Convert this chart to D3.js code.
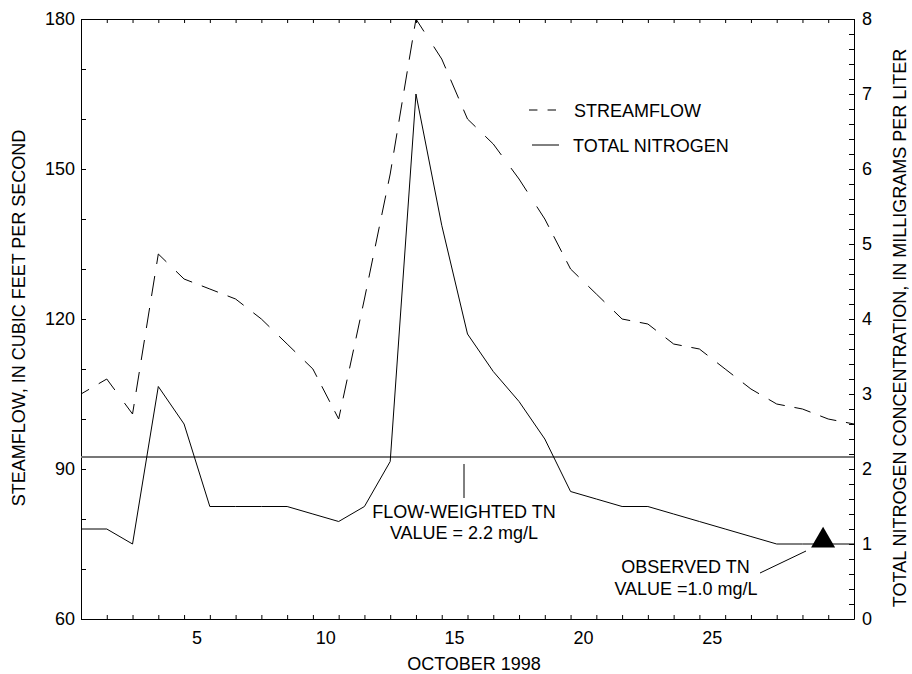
<!DOCTYPE html>
<html>
<head>
<meta charset="utf-8">
<script src="https://cdn.jsdelivr.net/npm/d3@7"></script>
<style>
  html, body { margin: 0; padding: 0; background: #fff; }
  svg { display: block; font-family: "Liberation Sans", Arial, Helvetica, sans-serif; }
</style>
</head>
<body>
<svg id="chart" width="912" height="674"></svg>
<script>
// Daily record for October 1998, one value per day (Oct 1 - Oct 31)
const days = d3.range(1, 32);
const streamflow = [105, 108, 101, 133, 128, 126, 124, 120, 115, 110,
                    100, 124, 149, 180, 172, 160, 155, 148, 140, 130,
                    125, 120, 119, 115, 114, 110, 106, 103, 102, 100, 99];
const totalNitrogen = [1.2, 1.2, 1.0, 3.1, 2.6, 1.5, 1.5, 1.5, 1.5, 1.4,
                       1.3, 1.5, 2.1, 7.0, 5.25, 3.8, 3.3, 2.9, 2.4, 1.7,
                       1.6, 1.5, 1.5, 1.4, 1.3, 1.2, 1.1, 1.0, 1.0, 1.0, 1.0];
const dayLabels = [5, 10, 15, 20, 25];
const flowTicks = [60, 90, 120, 150, 180];
const tnTicks = [0, 1, 2, 3, 4, 5, 6, 7, 8];

// Flow-weighted mean concentration and the single observed sample
const flowWeightedTN = 2.16;
const observedDay = 29.8;
const observedTN = 1.0;

const FONT = 18;
const svg = d3.select("#chart");

const plot = { left: 81, right: 854, top: 19, bottom: 619 };

const x = d3.scaleLinear().domain([1, 31]).range([plot.left, plot.right]);
const yQ = d3.scaleLinear().domain([60, 180]).range([plot.bottom, plot.top]);
const yC = d3.scaleLinear().domain([0, 8]).range([plot.bottom, plot.top]);

// ---- axes (ticks point into the plot) ----
const minorQ = d3.range(60, 181, 10);
const leftAxis = d3.axisLeft(yQ)
  .tickValues(minorQ)
  .tickSizeInner(-5).tickSizeOuter(0).tickPadding(6)
  .tickFormat(v => flowTicks.includes(v) ? d3.format("d")(v) : "");
const minorC = d3.range(0, 41).map(i => i / 5);
const rightAxis = d3.axisRight(yC)
  .tickValues(minorC)
  .tickSizeInner(-5).tickSizeOuter(0).tickPadding(8)
  .tickFormat(v => tnTicks.some(t => Math.abs(t - v) < 1e-9) ? d3.format("d")(v) : "");
const bottomAxis = d3.axisBottom(x).tickValues(days)
  .tickSizeInner(-4).tickSizeOuter(0).tickFormat("");
const topAxis = d3.axisTop(x).tickValues(days)
  .tickSizeInner(-4).tickSizeOuter(0).tickFormat("");

function styleAxis(g) {
  g.attr("font-family", null).attr("font-size", FONT);
  g.selectAll("path.domain").attr("stroke", "#000").attr("stroke-width", 1);
  g.selectAll(".tick line").attr("stroke", "#000").attr("stroke-width", 1);
  g.selectAll(".tick text").attr("fill", "#000");
}

svg.append("g").attr("transform", `translate(${plot.left},0)`).call(leftAxis).call(styleAxis);
svg.append("g").attr("transform", `translate(${plot.right},0)`).call(rightAxis).call(styleAxis);
svg.append("g").attr("transform", `translate(0,${plot.bottom})`).call(bottomAxis).call(styleAxis);
svg.append("g").attr("transform", `translate(0,${plot.top})`).call(topAxis).call(styleAxis);

// Day labels sit at the middle of each day
svg.append("g").selectAll("text")
  .data(dayLabels)
  .join("text")
  .attr("x", d => x(d + 0.5))
  .attr("y", 644)
  .attr("text-anchor", "middle")
  .attr("font-size", FONT)
  .text(d => d);

svg.append("text")
  .attr("x", 474).attr("y", 670)
  .attr("text-anchor", "middle")
  .attr("font-size", FONT)
  .text("OCTOBER 1998");

svg.append("text")
  .attr("transform", "translate(24.5,318) rotate(-90)")
  .attr("text-anchor", "middle")
  .attr("font-size", FONT)
  .text("STEAMFLOW, IN CUBIC FEET PER SECOND");

svg.append("text")
  .attr("transform", "translate(906,328) rotate(-90)")
  .attr("text-anchor", "middle")
  .attr("font-size", FONT)
  .text("TOTAL NITROGEN CONCENTRATION, IN MILLIGRAMS PER LITER");

// ---- flow-weighted reference line ----
svg.append("line")
  .attr("x1", x(1)).attr("x2", x(31))
  .attr("y1", yC(flowWeightedTN)).attr("y2", yC(flowWeightedTN))
  .attr("stroke", "#777").attr("stroke-width", 2);

// ---- dashed streamflow: each segment starts and ends on a half dash ----
function segmentDashes(len, dash = 20, gap = 12) {
  const half = dash / 2;
  const n = Math.max(0, Math.round((len - dash - gap) / (gap + dash)));
  const nominal = dash + (n + 1) * gap + n * dash;
  const s = len / nominal;
  const parts = [half * s, gap * s];
  for (let i = 0; i < n; i++) parts.push(dash * s, gap * s);
  parts.push(half * s, len + 10);
  return parts.join(",");
}

const flowPts = days.map((d, i) => [x(d), yQ(streamflow[i])]);
svg.append("g").selectAll("line")
  .data(d3.pairs(flowPts))
  .join("line")
  .attr("x1", d => d[0][0]).attr("y1", d => d[0][1])
  .attr("x2", d => d[1][0]).attr("y2", d => d[1][1])
  .attr("stroke", "#000").attr("stroke-width", 1)
  .attr("stroke-dasharray", d => segmentDashes(Math.hypot(d[1][0] - d[0][0], d[1][1] - d[0][1])));

// ---- total nitrogen, solid ----
const tnLine = d3.line().x((d, i) => x(days[i])).y(d => yC(d));
svg.append("path")
  .datum(totalNitrogen)
  .attr("d", tnLine)
  .attr("fill", "none")
  .attr("stroke", "#000").attr("stroke-width", 1)
  .attr("stroke-linejoin", "miter");

// ---- observed sample ----
svg.append("path")
  .attr("d", d3.symbol(d3.symbolTriangle, 250)())
  .attr("transform", `translate(${x(observedDay)},${yC(observedTN) - 3.5})`)
  .attr("fill", "#000");

// ---- annotations ----
const fmt = d3.format(".1f");
svg.append("line")
  .attr("x1", 464).attr("x2", 464).attr("y1", 464).attr("y2", 498)
  .attr("stroke", "#000").attr("stroke-width", 1);
svg.append("text").attr("x", 464).attr("y", 518).attr("text-anchor", "middle")
  .attr("font-size", FONT).text("FLOW-WEIGHTED TN");
svg.append("text").attr("x", 464).attr("y", 539).attr("text-anchor", "middle")
  .attr("font-size", FONT).text(`VALUE = ${fmt(flowWeightedTN)} mg/L`);

svg.append("line")
  .attr("x1", 760).attr("y1", 573).attr("x2", 806).attr("y2", 551)
  .attr("stroke", "#000").attr("stroke-width", 1);
svg.append("text").attr("x", 685.5).attr("y", 572.5).attr("text-anchor", "middle")
  .attr("font-size", FONT).text("OBSERVED TN");
svg.append("text").attr("x", 686).attr("y", 594.5).attr("text-anchor", "middle")
  .attr("font-size", FONT).text(`VALUE =${fmt(observedTN)} mg/L`);

// ---- legend ----
svg.append("line")
  .attr("x1", 529).attr("x2", 556).attr("y1", 110).attr("y2", 110)
  .attr("stroke", "#000").attr("stroke-width", 1)
  .attr("stroke-dasharray", segmentDashes(27));
svg.append("text").attr("x", 574).attr("y", 116.5).attr("font-size", FONT).text("STREAMFLOW");
svg.append("line")
  .attr("x1", 532).attr("x2", 559).attr("y1", 145).attr("y2", 145)
  .attr("stroke", "#000").attr("stroke-width", 1);
svg.append("text").attr("x", 573).attr("y", 151.5).attr("font-size", FONT).text("TOTAL NITROGEN");
</script>
</body>
</html>
